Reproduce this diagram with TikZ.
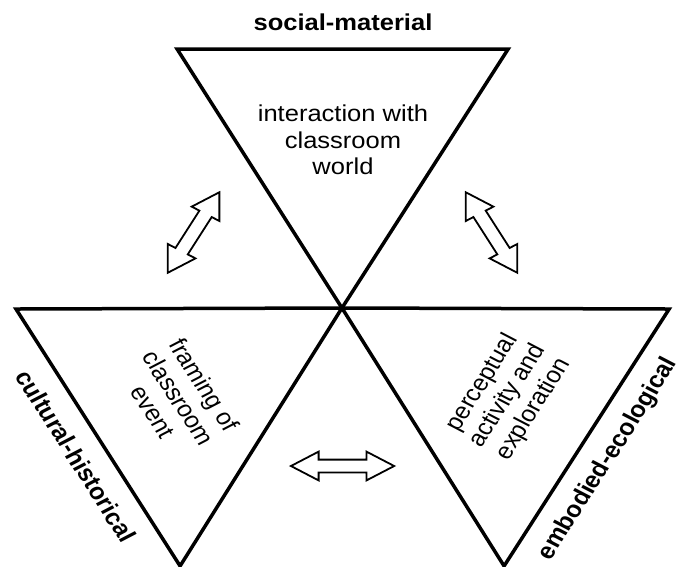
\documentclass[tikz,border=0pt]{standalone}
\usepackage{fontspec}
\setmainfont{Liberation Sans}
\usetikzlibrary{shapes.arrows}

\tikzset{
    tri/.style={draw, line width=3.5pt, line join=miter},
    twoway/.style={double arrow, draw, line width=1.8pt, fill=white,
        minimum height=93pt, inner xsep=0pt, inner ysep=5.5pt,
        double arrow head extend=8pt, double arrow tip angle=60},
    field/.style={align=center, font=\fontsize{23}{26.7}\selectfont},
    view/.style={font=\fontsize{23}{27}\selectfont\bfseries}
}

\begin{document}
\begin{tikzpicture}[x=1pt, y=-1pt, xscale=1.11, every node/.append style={transform shape}]
    \useasboundingbox (0,0) rectangle (612.6,566);
    \coordinate (c) at (308,308);
    \coordinate (tl) at (159.5,49);
    \coordinate (tr) at (457.7,49);
    \coordinate (l) at (14.4,309);
    \coordinate (lb) at (162.2,566);
    \coordinate (r) at (602.7,309);
    \coordinate (rb) at (454,566);

    \draw[tri] (tl) -- (tr) -- (c) -- cycle;
    \draw[tri] (l) -- (c) -- (lb) -- cycle;
    \draw[tri] (c) -- (r) -- (rb) -- cycle;

    \node[view, anchor=base] (social) at (309,30) {social-material};
    \node[view, rotate=-60] (cultural) at (68.5,456) {cultural-historical};
    \node[view, rotate=60] (embodied) at (548,459) {embodied-ecological};

    \node[field] (world) at (309,140) {interaction with\\classroom\\world};
    \node[field, rotate=-60] (framing) at (161,398) {framing of\\classroom\\event};
    \node[field, rotate=60] (percept) at (457.7,396) {perceptual\\activity and\\exploration};

    \node[twoway, rotate=60] (sw) at (174.4,232.5) {};
    \node[twoway, rotate=-60] (se) at (442.8,232.5) {};
    \node[twoway] (bottom) at (308.6,466) {};
\end{tikzpicture}
\end{document}
